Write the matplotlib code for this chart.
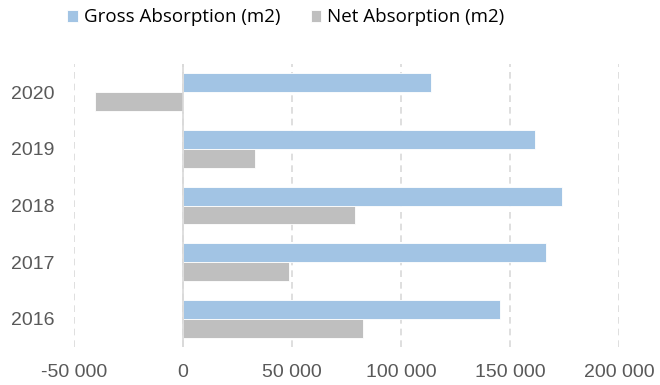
import numpy as np
import matplotlib
matplotlib.use('Agg')
from matplotlib import pyplot as plt
from matplotlib.ticker import FuncFormatter

years = ['2016', '2017', '2018', '2019', '2020']
gross = [145300, 166700, 174000, 161600, 113600]
net = [82700, 48800, 79000, 32900, -40400]
xticks = [-50000, 0, 50000, 100000, 150000, 200000]

blue = '#A2C4E4'
grey = '#BFBFBF'
txt = '#595959'

plt.rcParams['font.family'] = ['Liberation Sans', 'DejaVu Sans']

fig = plt.figure(figsize=(6.6, 3.85), dpi=100)
ax = fig.add_axes([74 / 660, 1 - 347 / 385, (619 - 74) / 660, (347 - 64) / 385])

y = np.arange(len(years))
h = 1 / 3
ax.barh(y + h / 2, gross, height=h, color=blue, edgecolor='white', linewidth=0.6,
        label='Gross Absorption (m2)', zorder=3)
ax.barh(y - h / 2, net, height=h, color=grey, edgecolor='white', linewidth=0.6,
        label='Net Absorption (m2)', zorder=3)

ax.set_xlim(-50000, 200000)
ax.set_ylim(-0.5, len(years) - 0.5)
ax.set_xticks(xticks)
ax.xaxis.set_major_formatter(FuncFormatter(lambda v, p: '{:,.0f}'.format(v).replace(',', ' ')))
ax.set_yticks(y)
ax.set_yticklabels(years)
ax.tick_params(axis='both', length=0, labelsize=14, colors=txt)
ax.tick_params(axis='x', pad=12)
ax.tick_params(axis='y', pad=14)
ax.grid(axis='x', color='#D9D9D9', linestyle=(0, (4, 3)), linewidth=1.2, zorder=0)
ax.axvline(0, color='#D9D9D9', linewidth=1.2, zorder=4)
for s in ax.spines.values():
    s.set_visible(False)

fig.legend(loc='center left', bbox_to_anchor=(67 / 660, 1 - 17.5 / 385), ncol=2, frameon=False,
           borderpad=0, borderaxespad=0, handlelength=0.57, handleheight=0.57,
           handletextpad=0.32, columnspacing=1.63,
           prop={'family': ['Open Sans', 'DejaVu Sans'], 'size': 13.5})

fig.savefig('out.png', dpi=100)
